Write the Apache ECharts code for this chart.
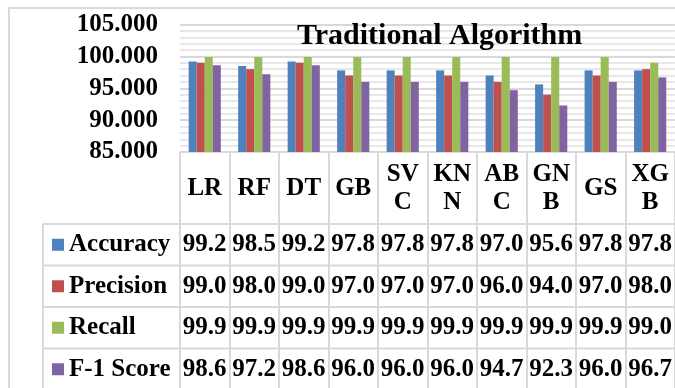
<!DOCTYPE html>
<html>
<head>
<meta charset="utf-8">
<script src="https://cdn.jsdelivr.net/npm/echarts@6/dist/echarts.min.js"></script>
<style>
  html, body { margin: 0; padding: 0; background: #ffffff; }
  #chart { width: 675px; height: 388px; }
</style>
</head>
<body>
<div id="chart"></div>
<script>
// ---- data ----
const categories = ['LR', 'RF', 'DT', 'GB', 'SVC', 'KNN', 'ABC', 'GNB', 'GS', 'XGB'];
const accuracy  = [99.2, 98.5, 99.2, 97.8, 97.8, 97.8, 97.0, 95.6, 97.8, 97.8];
const precision = [99.0, 98.0, 99.0, 97.0, 97.0, 97.0, 96.0, 94.0, 97.0, 98.0];
const recall    = [99.9, 99.9, 99.9, 99.9, 99.9, 99.9, 99.9, 99.9, 99.9, 99.0];
const f1Score   = [98.6, 97.2, 98.6, 96.0, 96.0, 96.0, 94.7, 92.3, 96.0, 96.7];
const seriesNames = ['Accuracy', 'Precision', 'Recall', 'F-1 Score'];
const yMin = 85, yMax = 105, yStep = 5;
const chartTitle = 'Traditional Algorithm';

// ---- look & layout ----
const FONT = '"Liberation Serif", "Times New Roman", serif';
const COLORS = ['#4F81BD', '#C0504D', '#9BBB59', '#8064A2'];
const LINE = '#d9d9d9';
const W = 675, H = 388;
const plot = { left: 180, top: 24.5, width: 496, height: 127.5 };
const plotBottom = plot.top + plot.height;
const headerBottom = 224;
const rowH = 41.5;
const legendLeft = 43;

const seriesData = [accuracy, precision, recall, f1Score];

// table rows are drawn as extra category axes pushed down under the plot
const rowAxes = seriesData.map((arr, k) => ({
  type: 'category',
  data: categories,
  gridIndex: 0,
  position: 'bottom',
  offset: headerBottom + rowH * (k + 0.5) - plotBottom,
  axisLine: { show: false },
  axisTick: { show: false },
  axisLabel: {
    interval: 0,
    margin: 0,
    verticalAlign: 'middle',
    fontFamily: FONT,
    fontSize: 25,
    fontWeight: 'bold',
    color: '#000',
    formatter: (v, i) => arr[i].toFixed(1)
  }
}));

// table borders
const tableLines = [];
for (let k = 0; k < seriesData.length; k++) {
  const y = headerBottom + rowH * k;
  tableLines.push({
    type: 'line', silent: true, z: 0,
    shape: { x1: legendLeft, y1: y, x2: W + 5, y2: y },
    style: { stroke: LINE, lineWidth: 2 }
  });
}
tableLines.push({
  type: 'line', silent: true, z: 0,
  shape: { x1: legendLeft, y1: headerBottom, x2: legendLeft, y2: H + 5 },
  style: { stroke: LINE, lineWidth: 2 }
});
// outer chart frame
tableLines.push({
  type: 'rect', silent: true, z: 0,
  shape: { x: 9, y: 8, width: W + 20, height: H + 20 },
  style: { fill: 'none', stroke: LINE, lineWidth: 2 }
});

const chart = echarts.init(document.getElementById('chart'), null, { renderer: 'canvas' });

chart.setOption({
  animation: false,
  backgroundColor: '#ffffff',
  color: COLORS,
  title: {
    text: chartTitle,
    left: 297,
    top: 21,
    padding: 0,
    textStyle: { fontFamily: FONT, fontSize: 30, fontWeight: 'bold', color: '#000' }
  },
  legend: {
    orient: 'vertical',
    left: 52,
    top: headerBottom + rowH / 2 - 13,
    padding: 0,
    itemWidth: 12,
    itemHeight: 12,
    itemGap: rowH - 26,
    icon: 'rect',
    selectedMode: false,
    data: seriesNames,
    textStyle: { fontFamily: FONT, fontSize: 25, fontWeight: 'bold', color: '#000', lineHeight: 26 }
  },
  grid: {
    left: plot.left,
    top: plot.top,
    width: plot.width,
    height: plot.height,
    containLabel: false
  },
  xAxis: [{
    type: 'category',
    data: categories,
    position: 'bottom',
    axisLine: { show: true, lineStyle: { color: LINE, width: 2 } },
    axisTick: { show: true, interval: 0, length: H - plotBottom + 10, lineStyle: { color: LINE, width: 2 } },
    axisLabel: {
      interval: 0,
      margin: 36.5,
      verticalAlign: 'middle',
      lineHeight: 28,
      fontFamily: FONT,
      fontSize: 25,
      fontWeight: 'bold',
      color: '#000',
      formatter: v => (v.length > 2 ? v.slice(0, 2) + '\n' + v.slice(2) : v)
    }
  }].concat(rowAxes),
  yAxis: {
    type: 'value',
    min: yMin,
    max: yMax,
    interval: yStep,
    axisLine: { show: false },
    axisTick: { show: false },
    axisLabel: {
      margin: 22,
      fontFamily: FONT,
      fontSize: 25,
      fontWeight: 'bold',
      color: '#000',
      formatter: v => v.toFixed(3)
    },
    splitLine: { show: true, lineStyle: { color: LINE, width: 2 } },
    minorTick: { show: false, splitNumber: 5 },
    minorSplitLine: { show: true, lineStyle: { color: '#e8e8e8', width: 2 } }
  },
  series: seriesNames.map((name, k) => ({
    name: name,
    type: 'bar',
    data: seriesData[k],
    barGap: '0%',
    barCategoryGap: '35%',
    itemStyle: { color: COLORS[k] }
  })),
  graphic: tableLines
});
</script>
</body>
</html>
